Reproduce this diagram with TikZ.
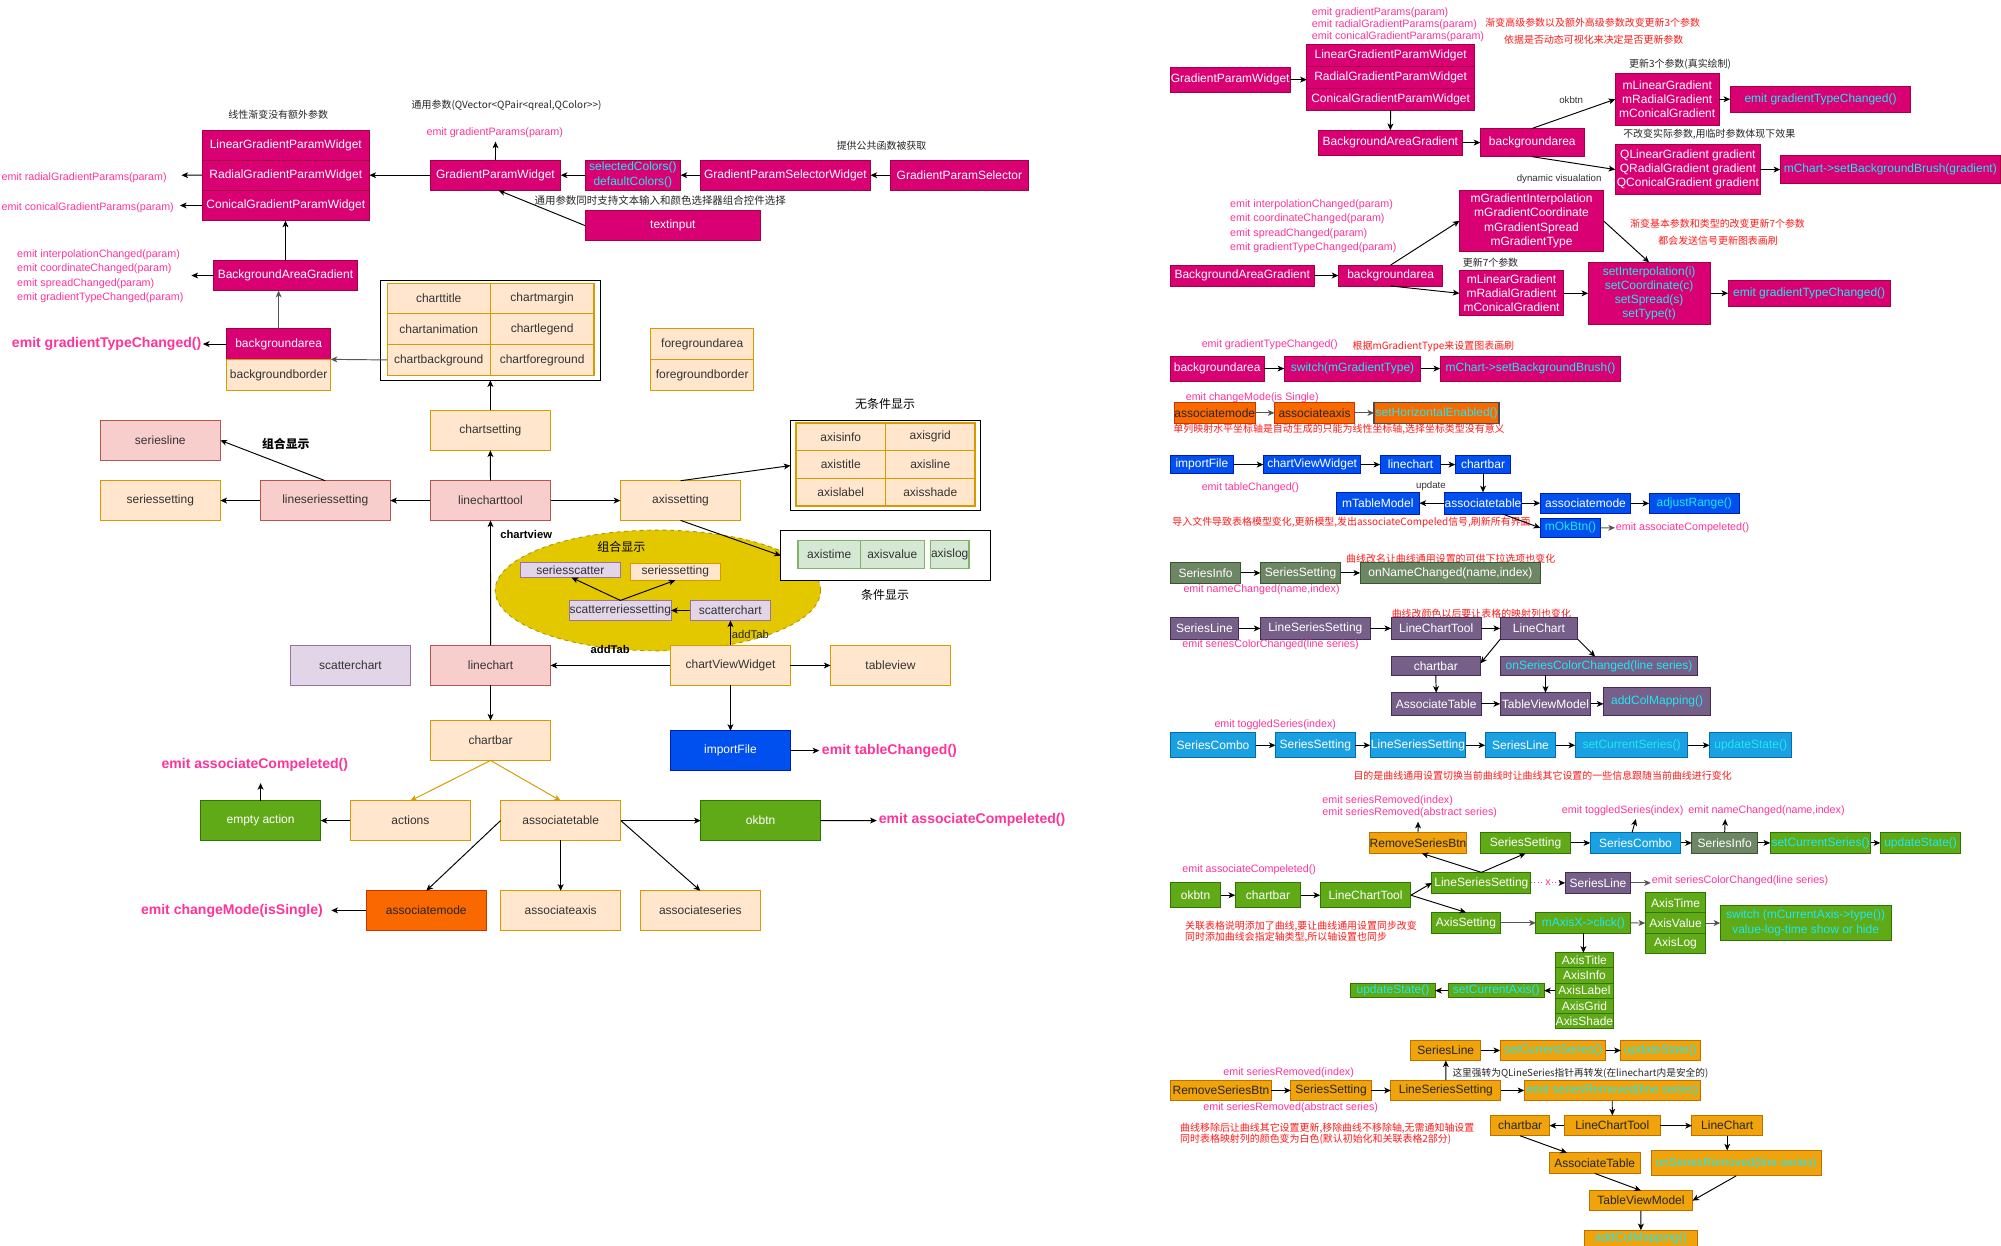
\documentclass[tikz,border=0pt]{standalone}
\usepackage{fontspec}
\setmainfont{Liberation Sans}
\newfontfamily\cjk{Noto Sans CJK SC}
\usetikzlibrary{arrows.meta,shapes.geometric}

\definecolor{cMag}{HTML}{D80073}\definecolor{cMagD}{HTML}{A50040}
\definecolor{cLor}{HTML}{FFE6CC}\definecolor{cLorD}{HTML}{D79B00}
\definecolor{cLred}{HTML}{F8CECC}\definecolor{cLredD}{HTML}{B85450}
\definecolor{cLav}{HTML}{E1D5E7}\definecolor{cLavD}{HTML}{9673A6}
\definecolor{cLgrn}{HTML}{D5E8D4}\definecolor{cLgrnD}{HTML}{82B366}
\definecolor{cGrn}{HTML}{60A917}\definecolor{cGrnD}{HTML}{2D7600}
\definecolor{cBlu}{HTML}{0050EF}\definecolor{cBluD}{HTML}{001DBC}
\definecolor{cOrg}{HTML}{FA6800}\definecolor{cOrgD}{HTML}{C73500}
\definecolor{cYel}{HTML}{E3C800}\definecolor{cYelD}{HTML}{B09500}
\definecolor{cPur}{HTML}{76608A}\definecolor{cPurD}{HTML}{432D57}
\definecolor{cGgr}{HTML}{6D8764}\definecolor{cGgrD}{HTML}{3A5431}
\definecolor{cSky}{HTML}{1BA1E2}\definecolor{cSkyD}{HTML}{006EAF}
\definecolor{cAmb}{HTML}{F0A30A}\definecolor{cAmbD}{HTML}{BD7000}
\definecolor{cPink}{HTML}{FF3399}
\definecolor{cCyan}{HTML}{1FE8F0}
\definecolor{cRed}{HTML}{FF1A1A}
\definecolor{cTxt}{HTML}{333333}
\definecolor{cGray}{HTML}{555555}

\newcommand{\fsz}[2]{\fontsize{#1}{#2}\selectfont}
% box from (x1,y1) to (x2,y2): style, x1, y1, x2, y2, name, text
\newcommand{\bx}[7]{\node[#1, minimum width={((#4)-(#2))*1pt}, minimum height={((#5)-(#3))*1pt}] (#6) at ({((#2)+(#4))/2},{((#3)+(#5))/2}) {#7};}

\begin{document}
\begin{tikzpicture}[x=1pt, y=-1pt,
  box/.style={draw, line width=0.75pt, inner sep=0pt, outer sep=0pt, align=center, font=\fsz{9.4}{11.2}},
  mag/.style={box, fill=cMag, draw=cMagD, text=white},
  lor/.style={box, fill=cLor, draw=cLorD, text=cTxt},
  lred/.style={box, fill=cLred, draw=cLredD, text=cTxt},
  lav/.style={box, fill=cLav, draw=cLavD, text=cTxt},
  lgrn/.style={box, fill=cLgrn, draw=cLgrnD, text=cTxt},
  grn/.style={box, fill=cGrn, draw=cGrnD, text=white},
  blu/.style={box, fill=cBlu, draw=cBluD, text=white},
  org/.style={box, fill=cOrg, draw=cOrgD, text=black!85},
  pur/.style={box, fill=cPur, draw=cPurD, text=white},
  ggr/.style={box, fill=cGgr, draw=cGgrD, text=white},
  sky/.style={box, fill=cSky, draw=cSkyD, text=white},
  amb/.style={box, fill=cAmb, draw=cAmbD, text=black!85},
  cy/.style={text=cCyan},
  gridframe/.style={draw=black, line width=0.8pt, fill=white, inner sep=0pt, outer sep=0pt},
  arr/.style={draw=black, line width=0.75pt, -{Stealth[length=5.2pt, width=4.6pt, inset=1.4pt]}},
  garr/.style={arr, draw=cGray},
  oarr/.style={arr, draw=cLorD},
  pinkt/.style={text=cPink, font=\fsz{8.4}{10}, inner sep=0pt, outer sep=0pt},
  pinkb/.style={text=cPink, font=\bfseries\fsz{11}{13}, inner sep=0pt, outer sep=0pt},
  ann/.style={text=black!85, font=\cjk\fsz{7.8}{9}, inner sep=0pt, outer sep=0pt},
  annr/.style={ann, text=cRed},
  annl/.style={text=black!80, font=\fsz{7.6}{9}, inner sep=0pt, outer sep=0pt},
  annb/.style={text=black, font=\cjk\fsz{9.4}{11}, inner sep=0pt, outer sep=0pt},
  boldlbl/.style={text=black, font=\bfseries\fsz{8.8}{10}, inner sep=0pt, outer sep=0pt}
]
\useasboundingbox (0,0) rectangle (1568,976);
\fill[white] (0,0) rectangle (1568,976);
\clip (0,0) rectangle (1568,976);

% ================= left: overall structure =================
% gradient widgets
\bx{mag}{158.4}{101.9}{289.5}{125.4}{lgpw}{LinearGradientParamWidget}
\bx{mag}{158.4}{125.4}{289.5}{149.2}{rgpw}{RadialGradientParamWidget}
\bx{mag}{158.4}{149.2}{289.5}{172.9}{cgpw}{ConicalGradientParamWidget}
\bx{mag}{337.1}{125.4}{439.4}{149.2}{gpw}{GradientParamWidget}
\bx{mag,cy,font=\fsz{9.4}{11.8}}{458.6}{125.4}{533.3}{149.2}{selc}{selectedColors()\\defaultColors()}
\bx{mag}{548.8}{125.4}{682.1}{149.2}{gpsw}{GradientParamSelectorWidget}
\bx{mag}{697.5}{125.4}{806}{149.2}{gps}{GradientParamSelector}
\bx{mag}{458.6}{165.1}{595.9}{188.6}{tinp}{textinput}
\bx{mag}{167.3}{204}{280.1}{227.8}{bag}{BackgroundAreaGradient}
\bx{mag}{177.6}{257.6}{259.1}{281.6}{barea}{backgroundarea}
\bx{lor}{177.6}{281.6}{259.1}{306.2}{bborder}{backgroundborder}

\node[ann] (tl1) at (218,90.1) {线性渐变没有额外参数};
\node[ann, anchor=west] (tl2) at (322.6,82.8) {通用参数(QVector<QPair<qreal,QColor>>)};
\node[pinkt] (tl3) at (387.7,104) {emit gradientParams(param)};
\node[pinkt, anchor=west] (tl4) at (1.3,139.2) {emit radialGradientParams(param)};
\node[pinkt, anchor=west] (tl5) at (1.3,162.7) {emit conicalGradientParams(param)};
\node[ann] (tl6) at (690.8,114.2) {提供公共函数被获取};
\node[ann, font=\cjk\fsz{8.2}{9}] (tl7) at (517.3,157.3) {通用参数同时支持文本输入和颜色选择器组合控件选择};
\node[pinkt, anchor=west] (tl8a) at (13.5,199.6) {emit interpolationChanged(param)};
\node[pinkt, anchor=west] (tl8b) at (13.5,210.8) {emit coordinateChanged(param)};
\node[pinkt, anchor=west] (tl8c) at (13.5,222.3) {emit spreadChanged(param)};
\node[pinkt, anchor=west] (tl8d) at (13.5,233.5) {emit gradientTypeChanged(param)};
\node[pinkb, anchor=west] (tl9) at (9.4,269.2) {emit gradientTypeChanged()};

\coordinate (gpwtip) at (388.3,111);
\coordinate (radtip) at (142.2,137.3);
\coordinate (contip) at (141,161);
\coordinate (bagtip) at (150,215.9);
\coordinate (gttip) at (159,269.6);
\draw[arr] (gpw.north) -- (gpwtip);
\draw[arr] (gpw.west) -- (rgpw.east);
\draw[arr] (selc.west) -- (gpw.east);
\draw[arr] (gpsw.west) -- (selc.east);
\draw[arr] (gps.west) -- (gpsw.east);
\draw[arr] (tinp.west) -- ([xshift=2.5pt]gpw.south);
\draw[arr] (rgpw.west) -- (radtip);
\draw[arr] (cgpw.west) -- (contip);
\draw[arr] (bag.north) -- (bag.north |- cgpw.south);
\draw[arr] (bag.west) -- (bagtip);
\draw[garr] (barea.north) -- (barea.north |- bag.south);
\draw[arr] (barea.west) -- (gttip);

% chart settings grid
\bx{gridframe}{297.8}{219.7}{470.4}{298}{cgrid}{}
\bx{lor,line width=1pt}{303.4}{222}{384.2}{245.6}{ctitle}{charttitle}
\bx{lor,line width=1pt}{384.2}{222}{465.4}{245.6}{cmargin}{chartmargin}
\bx{lor,line width=1pt}{303.4}{245.6}{384.2}{269.9}{canim}{chartanimation}
\bx{lor,line width=1pt}{384.2}{245.6}{465.4}{269.9}{clegend}{chartlegend}
\bx{lor,line width=1pt}{303.4}{269.9}{384.2}{294.2}{cbg}{chartbackground}
\bx{lor,line width=1pt}{384.2}{269.9}{465.4}{294.2}{cfg}{chartforeground}
\draw[garr] (cbg.west) -- (barea.south east);

\bx{lor}{509.8}{257.6}{590.7}{281.6}{fgarea}{foregroundarea}
\bx{lor}{509.8}{281.6}{590.7}{306.2}{fgborder}{foregroundborder}

% group ellipse
\node[ellipse, draw=cYelD, fill=cYel, dashed, line width=0.7pt, minimum width=255pt, minimum height=94.6pt, inner sep=0pt] (grp) at (515.5,462.7) {};

\bx{lor}{337.1}{321.6}{431.4}{352.9}{chset}{chartsetting}
\bx{lred}{337.3}{376.7}{431.4}{407.8}{lctool}{linecharttool}
\bx{lred}{204}{376.7}{305.8}{407.8}{lsset}{lineseriessetting}
\bx{lor}{78.5}{376.7}{172.7}{407.8}{sset}{seriessetting}
\bx{lred}{78.5}{329.4}{172.7}{360.7}{sline}{seriesline}
\bx{lor}{486.1}{376.7}{580.5}{407.8}{axset}{axissetting}
\node[annb, font=\bfseries\cjk\fsz{9.3}{11}] (tl10) at (224,348.2) {组合显示};

% axis grids
\bx{gridframe}{619.4}{329.5}{768.5}{400.2}{agrid}{}
\bx{lor,line width=1pt}{623.7}{331.4}{694}{353.2}{ainfo}{axisinfo}
\bx{lor,line width=1pt}{694}{331.4}{763.9}{353.2}{agr}{axisgrid}
\bx{lor,line width=1pt}{623.7}{353.2}{694}{374.8}{atitle}{axistitle}
\bx{lor,line width=1pt}{694}{353.2}{763.9}{374.8}{aline}{axisline}
\bx{lor,line width=1pt}{623.7}{374.8}{694}{396.6}{alabel}{axislabel}
\bx{lor,line width=1pt}{694}{374.8}{763.9}{396.6}{ashade}{axisshade}
\bx{gridframe}{611.8}{415.9}{776.1}{454.9}{cond}{}
\bx{lgrn,line width=1pt}{625.4}{423.7}{674.1}{445.3}{atime}{axistime}
\bx{lgrn,line width=1pt}{674.1}{423.7}{724.3}{445.3}{avalue}{axisvalue}
\bx{lgrn,line width=1pt}{729.2}{423.7}{759.2}{445.3}{alog}{axislog}
\node[annb] (tl15) at (693.6,316.9) {无条件显示};
\node[annb] (tl16) at (693.6,465.8) {条件显示};

% inside the ellipse
\node[annb] (tl12) at (486.9,428.8) {组合显示};
\bx{lav}{407.7}{441.1}{486.1}{452.6}{sscat}{seriesscatter}
\bx{lor}{494}{441.3}{564.3}{454.7}{sset2}{seriessetting}
\bx{lav}{446.9}{470.5}{525.4}{486.2}{scrs}{scatterreriessetting}
\bx{lav}{540.9}{470.5}{603.6}{486.2}{schsm}{scatterchart}

\bx{lor}{525.4}{505.8}{619.4}{537.1}{cvw}{chartViewWidget}
\bx{lred}{337.4}{505.8}{431.4}{537.1}{lchart}{linechart}
\bx{lav}{227.5}{505.8}{321.7}{537.1}{schart}{scatterchart}
\bx{lor}{650.8}{505.8}{744.7}{537.1}{tview}{tableview}
\bx{blu}{525.4}{572.7}{619.4}{603.7}{impf}{importFile}
\bx{lor}{337.4}{564.6}{431.4}{595.9}{cbar}{chartbar}
\bx{lor}{274.5}{627.5}{368.6}{658.6}{acts}{actions}
\bx{lor}{392.2}{627.5}{486.5}{658.6}{atab}{associatetable}
\bx{grn}{157.1}{627.5}{251.3}{658.6}{eact}{empty action}
\bx{grn}{549.1}{627.5}{642.9}{658.6}{okb}{okbtn}
\bx{org}{287.1}{698}{381}{728.8}{amode}{associatemode}
\bx{lor}{392.2}{698}{486.5}{728.8}{aaxis}{associateaxis}
\bx{lor}{502}{698}{595.6}{728.8}{aseries}{associateseries}

\node[boldlbl, anchor=west] (tl11) at (392,419) {chartview};
\node[text=black!85, font=\fsz{8.8}{10}, inner sep=0pt] (tl13) at (588,497.4) {addTab};
\node[boldlbl] (tl14) at (478.2,509.1) {addTab};
\node[pinkb, anchor=west] (tl17) at (644.1,588.1) {emit tableChanged()};
\node[pinkb] (tl18) at (199.7,599.5) {emit associateCompeleted()};
\node[pinkb, anchor=west] (tl19) at (688.7,642.6) {emit associateCompeleted()};
\node[pinkb, anchor=east] (tl20) at (252.9,713.5) {emit changeMode(isSingle)};

\coordinate (tctip) at (642,588.2);
\coordinate (actip) at (204.2,613.6);
\coordinate (ac2tip) at (687,643);
\coordinate (cmtip) at (259.6,713.4);
\draw[arr] (chset.north) -- (chset.north |- cgrid.south);
\draw[arr] (lctool.north) -- (chset.south);
\draw[arr] (lctool.west) -- (lsset.east);
\draw[arr] (lsset.west) -- (sset.east);
\draw[arr] (lsset.north) -- (sline.east);
\draw[arr] (lctool.east) -- (axset.west);
\draw[arr] (axset.north) -- (agrid.west);
\draw[arr] (axset.south) -- (cond.west);
\draw[arr] (lchart.north) -- (lctool.south);
\draw[arr] (cvw.west) -- (lchart.east);
\draw[arr] (cvw.north) -- (cvw.north |- schsm.south);
\draw[arr] (schsm.west) -- (scrs.east);
\draw[arr] (scrs.north) -- ([xshift=1pt]sscat.south);
\draw[arr] (scrs.north) -- (sset2.south);
\draw[arr] (cvw.east) -- (tview.west);
\draw[arr] (cvw.south) -- (impf.north);
\draw[arr] (impf.east) -- (tctip);
\draw[arr] (lchart.south) -- (cbar.north);
\draw[oarr] (cbar.south) -- (acts.north);
\draw[oarr] (cbar.south) -- (atab.north);
\draw[arr] (acts.west) -- (eact.east);
\draw[arr] (eact.north) -- (actip);
\draw[arr] (atab.east) -- (okb.west);
\draw[arr] (okb.east) -- (ac2tip);
\draw[arr] (atab.west) -- (amode.north);
\draw[arr] (atab.south) -- (aaxis.north);
\draw[arr] (atab.east) -- (aseries.north);
\draw[arr] (amode.west) -- (cmtip);

% ================= right: signal flows =================
% gradient widgets
\node[pinkt, anchor=west] (rp1) at (1028,10) {emit gradientParams(param)};
\node[pinkt, anchor=west] (rp2) at (1028,19.3) {emit radialGradientParams(param)};
\node[pinkt, anchor=west] (rp3) at (1028,28.7) {emit conicalGradientParams(param)};
\node[annr, anchor=west] (rr1) at (1164,17.8) {渐变高级参数以及额外高级参数改变更新3个参数};
\node[annr, anchor=west] (rr2) at (1178.7,30.8) {依据是否动态可视化来决定是否更新参数};
\bx{mag}{917}{52.5}{1011}{72.3}{ra1}{GradientParamWidget}
\bx{mag}{1024}{35}{1155.4}{52}{ra2l}{LinearGradientParamWidget}
\bx{mag}{1024}{52}{1155.4}{69}{ra2r}{RadialGradientParamWidget}
\bx{mag}{1024}{69}{1155.4}{86.2}{ra2c}{ConicalGradientParamWidget}
\bx{mag}{1033}{102}{1146}{121.5}{ra3}{BackgroundAreaGradient}
\bx{mag}{1160}{100.6}{1241.4}{122.8}{ra4}{backgroundarea}
\bx{mag}{1265.7}{57.5}{1347.2}{98}{ra5}{mLinearGradient\\mRadialGradient\\mConicalGradient}
\bx{mag,cy}{1355.8}{67.4}{1497.4}{88.3}{ra6}{emit gradientTypeChanged()}
\bx{mag}{1265.7}{113.1}{1379.5}{152.6}{ra7}{QLinearGradient gradient\\QRadialGradient gradient\\QConicalGradient gradient}
\bx{mag,cy}{1395}{122}{1567.5}{143.7}{ra8}{mChart->setBackgroundBrush(gradient)}
\node[annl] (rl1) at (1231.2,78.1) {okbtn};
\node[annl, anchor=west] (rl2) at (1188.6,140.3) {dynamic visualation};
\node[ann, anchor=west] (rb1) at (1276.6,50.4) {更新3个参数(真实绘制)};
\node[ann, anchor=west] (rb2) at (1272,105.3) {不改变实际参数,用临时参数体现下效果};
\draw[arr] (ra1.east) -- (ra1.east -| ra2r.west);
\draw[arr] (ra2c.south) -- (ra3.north);
\draw[arr] (ra3.east) -- (ra3.east -| ra4.west);
\draw[arr] (ra4.north) -- (ra5.west);
\draw[arr] (ra5.east) -- (ra5.east -| ra6.west);
\draw[arr] (ra4.south) -- (ra7.west);
\draw[arr] (ra7.east) -- (ra7.east -| ra8.west);

% basic gradient parameters
\node[pinkt, anchor=west] (rp4) at (964,160.4) {emit interpolationChanged(param)};
\node[pinkt, anchor=west] (rp5) at (964,171.6) {emit coordinateChanged(param)};
\node[pinkt, anchor=west] (rp6) at (964,183.1) {emit spreadChanged(param)};
\node[pinkt, anchor=west] (rp7) at (964,194.1) {emit gradientTypeChanged(param)};
\bx{mag}{917}{207.7}{1029.8}{224.1}{rb1n}{BackgroundAreaGradient}
\bx{mag}{1048.8}{207.7}{1130.6}{224.1}{rb2n}{backgroundarea}
\bx{mag}{1143.7}{148.9}{1256.5}{197.2}{rb3n}{mGradientInterpolation\\mGradientCoordinate\\mGradientSpread\\mGradientType}
\bx{mag}{1143.7}{212.1}{1225.2}{247.6}{rb4n}{mLinearGradient\\mRadialGradient\\mConicalGradient}
\bx{mag,cy,font=\fsz{9.4}{11}}{1244.5}{205.6}{1340}{254}{rb5n}{setInterpolation(i)\\setCoordinate(c)\\setSpread(s)\\setType(t)}
\bx{mag,cy}{1354.2}{220}{1481.2}{239.8}{rb6n}{emit gradientTypeChanged()}
\node[ann, anchor=west] (rb3) at (1146.3,205.9) {更新7个参数};
\node[annr, anchor=west] (rr3) at (1277.4,175) {渐变基本参数和类型的改变更新7个参数};
\node[annr, anchor=west] (rr4) at (1299.5,188.6) {都会发送信号更新图表画刷};
\draw[arr] (rb1n.east) -- (rb2n.west);
\draw[arr] (rb2n.north) -- (rb3n.west);
\draw[arr] (rb2n.south) -- (rb4n.west);
\draw[arr] (rb4n.east) -- (rb4n.east -| rb5n.west);
\draw[arr] (rb3n.east) -- (rb5n.north);
\draw[arr] (rb5n.east) -- (rb5n.east -| rb6n.west);

% gradient type switch
\node[pinkt, anchor=west] (rp8) at (941.7,270.1) {emit gradientTypeChanged()};
\node[annr, anchor=west] (rr5) at (1060,271.7) {根据mGradientType来设置图表画刷};
\bx{mag}{917}{279}{990.6}{298.6}{rc1}{backgroundarea}
\bx{mag,cy}{1006.3}{279}{1113.4}{298.6}{rc2}{switch(mGradientType)}
\bx{mag,cy}{1128.5}{279}{1270.1}{298.6}{rc3}{mChart->setBackgroundBrush()}
\draw[arr] (rc1.east) -- (rc2.west);
\draw[arr] (rc2.east) -- (rc3.west);

% association mode
\node[pinkt, anchor=west] (rp9) at (929.2,311.7) {emit changeMode(is Single)};
\bx{org}{920.3}{315.3}{983.5}{331.8}{rd1}{associatemode}
\bx{org}{998.7}{315.3}{1061.4}{331.8}{rd2}{associateaxis}
\bx{org,cy,draw=black!70,line width=1.2pt}{1076.8}{315.3}{1174.8}{331.8}{rd3}{setHorizontalEnabled()}
\node[annr, anchor=west] (rr6) at (919.5,336.5) {单列映射水平坐标轴是自动生成的只能为线性坐标轴,选择坐标类型没有意义};
\draw[garr] (rd1.east) -- (rd2.west);
\draw[garr] (rd2.east) -- (rd3.west);

% import file
\bx{blu}{917}{357.1}{966.6}{371}{re1}{importFile}
\bx{blu}{990}{357.1}{1066.4}{371}{re2}{chartViewWidget}
\bx{blu}{1081.5}{357.1}{1129.1}{371}{re3}{linechart}
\bx{blu}{1140.3}{357.1}{1183.9}{371}{re4}{chartbar}
\bx{blu}{1047}{385.8}{1112.3}{402.8}{re5}{mTableModel}
\bx{blu}{1131.7}{385.8}{1192.5}{402.8}{re6}{associatetable}
\bx{blu}{1206.9}{386.6}{1278}{402.3}{re7}{associatemode}
\bx{blu,cy}{1292.3}{386.6}{1363}{402.3}{re8}{adjustRange()}
\bx{blu,cy}{1206.9}{406.2}{1254.4}{421.1}{re9}{mOkBtn()}
\node[pinkt, anchor=west] (rp10) at (941.7,382.2) {emit tableChanged()};
\node[annl] (rl3) at (1121.3,380.6) {update};
\node[annr, anchor=west] (rr7) at (918.7,409.3) {导入文件导致表格模型变化,更新模型,发出associateCompeled信号,刷新所有界面};
\node[pinkt, anchor=west] (rp11) at (1266.2,413.5) {emit associateCompeleted()};
\coordinate (oktip) at (1265.5,413.6);
\draw[arr] (re1.east) -- (re2.west);
\draw[arr] (re2.east) -- (re3.west);
\draw[arr] (re3.east) -- (re4.west);
\draw[arr] (re4.south) -- (re6.north);
\draw[arr] (re6.west) -- (re5.east);
\draw[arr] (re6.east) -- (re6.east -| re7.west);
\draw[arr] (re7.east) -- (re8.west);
\draw[arr] ([xshift=-15pt]re6.south east) -- (re9.west);
\draw[garr] (re9.east) -- (oktip);

% series rename
\node[annr, anchor=west] (rr8) at (1054.9,437.6) {曲线改名让曲线通用设置的可供下拉选项也变化};
\bx{ggr}{917}{440.7}{972.3}{457.2}{rf1}{SeriesInfo}
\bx{ggr}{987.7}{440.7}{1050.7}{457.2}{rf2}{SeriesSetting}
\bx{ggr}{1065.8}{440.7}{1207.4}{457.2}{rf3}{onNameChanged(name,index)}
\node[pinkt, anchor=west] (rp12) at (927.4,462.4) {emit nameChanged(name,index)};
\draw[arr] (rf1.east) -- (rf2.west);
\draw[arr] (rf2.east) -- (rf3.west);

% series colour
\node[annr, anchor=west] (rr9) at (1090.6,480.7) {曲线改颜色以后要让表格的映射列也变化};
\bx{pur}{917}{483.8}{970.5}{501}{rg1}{SeriesLine}
\bx{pur}{987.7}{483.8}{1073.7}{501}{rg2}{LineSeriesSetting}
\bx{pur}{1090.1}{483.8}{1160.7}{501}{rg3}{LineChartTool}
\bx{pur}{1175.5}{483.8}{1236.4}{501}{rg4}{LineChart}
\bx{pur}{1090.1}{514.6}{1160.1}{529}{rg5}{chartbar}
\bx{pur,cy}{1175.5}{514.6}{1330.5}{529}{rg6}{onSeriesColorChanged(line series)}
\bx{pur}{1090.1}{542.8}{1160.7}{560.3}{rg7}{AssociateTable}
\bx{pur}{1175.5}{542.8}{1246.6}{560.3}{rg8}{TableViewModel}
\bx{pur,cy}{1256.5}{538.9}{1340.6}{560.6}{rg9}{addColMapping()}
\node[pinkt, anchor=west] (rp13) at (926.6,505.5) {emit seriesColorChanged(line series)};
\draw[arr] (rg1.east) -- (rg2.west);
\draw[arr] (rg2.east) -- (rg3.west);
\draw[arr] (rg3.east) -- (rg4.west);
\draw[arr] (rg4.south west) -- ([yshift=2pt]rg5.east);
\draw[arr] (rg4.south east) -- ([xshift=-3pt]rg6.north);
\draw[arr] (rg5.south) -- (rg7.north);
\draw[arr] (rg8.north |- rg6.south) -- (rg8.north);
\draw[arr] (rg7.east) -- (rg8.west);
\draw[arr] (rg8.east) -- (rg8.east -| rg9.west);

% series toggle
\node[pinkt, anchor=west] (rp14) at (951.7,567.9) {emit toggledSeries(index)};
\bx{sky}{917}{574.2}{984.1}{593.8}{rh1}{SeriesCombo}
\bx{sky}{999.5}{574.2}{1061.9}{593.8}{rh2}{SeriesSetting}
\bx{sky}{1073.7}{574.2}{1148.6}{593.8}{rh3}{LineSeriesSetting}
\bx{sky}{1163.8}{574.2}{1219.2}{593.8}{rh4}{SeriesLine}
\bx{sky,cy}{1234.3}{574.2}{1322.6}{593.8}{rh5}{setCurrentSeries()}
\bx{sky,cy}{1339.6}{574.2}{1404.1}{593.8}{rh6}{updateState()}
\node[annr, anchor=west] (rr10) at (1060.6,607.6) {目的是曲线通用设置切换当前曲线时让曲线其它设置的一些信息跟随当前曲线进行变化};
\draw[arr] (rh1.east) -- (rh2.west);
\draw[arr] (rh2.east) -- (rh3.west);
\draw[arr] (rh3.east) -- (rh4.west);
\draw[arr] (rh4.east) -- (rh5.west);
\draw[arr] (rh5.east) -- (rh6.west);

% association completed
\node[pinkt, anchor=west] (rp15) at (1036.3,627.5) {emit seriesRemoved(index)};
\node[pinkt, anchor=west] (rp16) at (1036.3,636.9) {emit seriesRemoved(abstract series)};
\node[pinkt, anchor=west] (rp17) at (1223.9,635.3) {emit toggledSeries(index)};
\node[pinkt, anchor=west] (rp18) at (1323.1,635.3) {emit nameChanged(name,index)};
\node[pinkt, anchor=west] (rp19) at (926.6,681.6) {emit associateCompeleted()};
\bx{amb}{1073.7}{652.3}{1148.6}{668.7}{ri1}{RemoveSeriesBtn}
\bx{grn}{1159.9}{652.3}{1230.9}{668.7}{ri2}{SeriesSetting}
\bx{sky}{1246.1}{652.3}{1317.1}{668.7}{ri3}{SeriesCombo}
\bx{ggr}{1325.7}{652.3}{1377.2}{668.7}{ri4}{SeriesInfo}
\bx{grn,cy}{1387.1}{652.3}{1466}{668.7}{ri5}{setCurrentSeries()}
\bx{grn,cy}{1473.4}{652.3}{1536.6}{668.7}{ri6}{updateState()}
\bx{grn}{917}{691.7}{956.6}{711.3}{ri7}{okbtn}
\bx{grn}{967.9}{691.7}{1019.3}{711.3}{ri8}{chartbar}
\bx{grn}{1034.5}{691.7}{1105.6}{711.3}{ri9}{LineChartTool}
\bx{grn}{1122}{683.6}{1199.6}{700.1}{ri10}{LineSeriesSetting}
\bx{pur}{1226.5}{683.6}{1278}{700.1}{ri11}{SeriesLine}
\bx{grn}{1122}{715}{1175.5}{731.4}{ri12}{AxisSetting}
\bx{grn,cy}{1203.5}{715}{1278}{731.4}{ri13}{mAxisX->click()}
\bx{grn}{1289.2}{699.6}{1336.7}{715.2}{ri14a}{AxisTime}
\bx{grn}{1289.2}{715.2}{1336.7}{731.4}{ri14b}{AxisValue}
\bx{grn}{1289.2}{731.4}{1336.7}{747.1}{ri14c}{AxisLog}
\bx{grn,cy,font=\fsz{9.4}{11.8}}{1348}{709.2}{1481.8}{737.2}{ri15}{switch (mCurrentAxis->type())\\value-log-time show or hide}
\bx{grn}{1218.7}{746.6}{1264.4}{758.46}{ri16a}{AxisTitle}
\bx{grn}{1218.7}{758.46}{1264.4}{770.32}{ri16b}{AxisInfo}
\bx{grn}{1218.7}{770.32}{1264.4}{782.18}{ri16c}{AxisLabel}
\bx{grn}{1218.7}{782.18}{1264.4}{794.04}{ri16d}{AxisGrid}
\bx{grn}{1218.7}{794.04}{1264.4}{805.9}{ri16e}{AxisShade}
\bx{grn,cy}{1135}{770.6}{1210}{781.9}{ri17}{setCurrentAxis()}
\bx{grn,cy}{1058.5}{770.6}{1124.6}{781.9}{ri18}{updateState()}
\node[pinkt, anchor=west] (rp20) at (1294.4,690.2) {emit seriesColorChanged(line series)};
\node[annr, anchor=west] (rr11) at (928.7,725.4) {关联表格说明添加了曲线,要让曲线通用设置同步改变};
\node[annr, anchor=west] (rr12) at (928.7,734.4) {同时添加曲线会指定轴类型,所以轴设置也同步};
\coordinate (rmtip) at (1111.2,643.9);
\coordinate (sctip) at (1281.9,641.8);
\coordinate (sitip) at (1351.9,641.8);
\coordinate (sltip) at (1293.6,691.85);
\draw[arr] (ri1.north) -- (rmtip);
\draw[arr] (ri2.east) -- (ri3.west);
\draw[arr] ([xshift=-2.7pt]ri3.north) -- (sctip);
\draw[arr] (ri3.east) -- (ri4.west);
\draw[arr] (ri4.north) -- (sitip);
\draw[arr] (ri4.east) -- (ri5.west);
\draw[arr] (ri5.east) -- (ri6.west);
\draw[arr] (ri7.east) -- (ri8.west);
\draw[arr] (ri8.east) -- (ri9.west);
\draw[arr] (ri9.east) -- (ri10.west);
\draw[arr] (ri10.north) -- ([xshift=3pt]ri1.south);
\draw[arr] (ri10.north) -- (ri2.south);
\draw[cPink, dotted, line width=0.75pt, -{Stealth[length=5.2pt, width=4.6pt, inset=1.4pt, black]}] (ri10.east) -- node[text=cPink, font=\fsz{8.4}{10}, inner sep=0pt, fill=white] (xmark) {x} (ri11.west);
\draw[garr] (ri11.east) -- (sltip);
\draw[arr] (ri9.east) -- (ri12.north);
\draw[garr] (ri12.east) -- (ri13.west);
\draw[garr] (ri13.east) -- (ri14b.west);
\draw[garr] (ri14b.east) -- (ri14b.east -| ri15.west);
\draw[arr] (ri13.south) -- (ri13.south |- ri16a.north);
\draw[arr] (ri16c.west) -- (ri17.east);
\draw[arr] (ri17.west) -- (ri18.east);

% series removal
\bx{amb}{1105.5}{815.3}{1160.4}{831}{rj1}{SeriesLine}
\bx{amb,cy}{1175.5}{815.3}{1258.4}{831}{rj2}{setCurrentSeries()}
\bx{amb,cy}{1270.1}{815.3}{1332.3}{831}{rj3}{updateState()}
\bx{amb}{917.4}{846.4}{996.1}{862.6}{rj4}{RemoveSeriesBtn}
\bx{amb}{1011.5}{846.4}{1074.5}{862.6}{rj5}{SeriesSetting}
\bx{amb}{1089.9}{846.4}{1176.1}{862.6}{rj6}{LineSeriesSetting}
\bx{amb,cy}{1194.4}{846.4}{1332.3}{862.6}{rj7}{emit seriesRemoved(line series)}
\bx{amb}{1168.2}{874.1}{1214.2}{890}{rj8}{chartbar}
\bx{amb}{1225.9}{874.1}{1300.9}{890}{rj9}{LineChartTool}
\bx{amb}{1325.8}{874.1}{1381.1}{890}{rj10}{LineChart}
\bx{amb}{1214}{903.3}{1285.3}{919.5}{rj11}{AssociateTable}
\bx{amb,cy}{1293.9}{901.5}{1427.1}{921.4}{rj12}{onSeriesRemoved(line series)}
\bx{amb}{1245.5}{932.9}{1326.2}{948.8}{rj13}{TableViewModel}
\bx{amb,cy}{1241.6}{964}{1330}{977.5}{rj14}{addColMapping()}
\node[pinkt, anchor=west] (rp21) at (958.7,840.7) {emit seriesRemoved(index)};
\node[pinkt, anchor=west] (rp22) at (943,868.1) {emit seriesRemoved(abstract series)};
\node[ann, font=\cjk\fsz{7.6}{9}, anchor=west] (rb4) at (1138.2,840.7) {这里强转为QLineSeries指针再转发(在linechart内是安全的)};
\node[annr, anchor=west] (rr13) at (924.8,884) {曲线移除后让曲线其它设置更新,移除曲线不移除轴,无需通知轴设置};
\node[annr, anchor=west] (rr14) at (924.8,892.9) {同时表格映射列的颜色变为白色(默认初始化和关联表格2部分)};
\draw[arr] (rj1.east) -- (rj2.west);
\draw[arr] (rj2.east) -- (rj3.west);
\draw[arr] (rj4.east) -- (rj5.west);
\draw[arr] (rj5.east) -- (rj6.west);
\draw[arr] (rj6.east) -- (rj7.west);
\draw[arr] (rj6.north) -- (rj1.south);
\draw[arr] (rj7.south) -- (rj9.north);
\draw[arr] (rj9.west) -- (rj8.east);
\draw[arr] (rj9.east) -- (rj10.west);
\draw[arr] (rj8.south) -- ([xshift=13.8pt]rj11.north west);
\draw[arr] (rj10.south) -- (rj10.south |- rj12.north);
\draw[arr] (rj11.south) -- (rj13.north);
\draw[arr] (rj12.south) -- (rj13.east);
\draw[arr] (rj13.south) -- (rj14.north);
\end{tikzpicture}
\end{document}
